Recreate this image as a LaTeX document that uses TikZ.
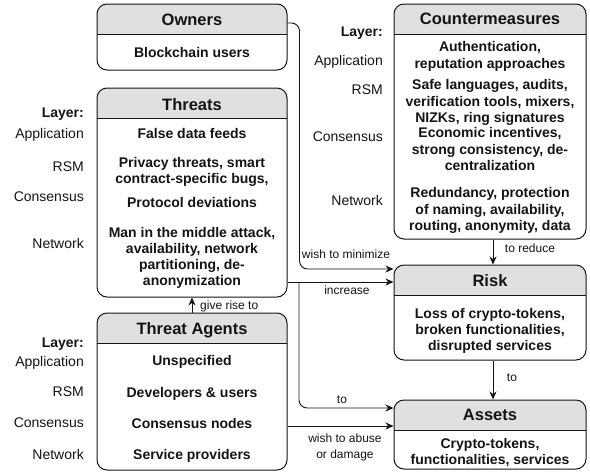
\documentclass[tikz,border=0pt]{standalone}
\usepackage{fontspec}
\setmainfont{Liberation Sans}
\usetikzlibrary{arrows.meta}
\definecolor{hdr}{RGB}{224,224,224}
\definecolor{ink}{RGB}{20,20,20}
\begin{document}
\begin{tikzpicture}[x=1pt,y=-1pt,
  box/.style={draw=ink, line width=1pt, rounded corners=10pt, fill=white, inner sep=0pt,
    path picture={
      \fill[hdr, sharp corners] (path picture bounding box.north west) rectangle ([yshift=-30pt]path picture bounding box.north east);
      \draw[ink, line width=1pt, sharp corners] ([yshift=-30pt]path picture bounding box.north west) -- ([yshift=-30pt]path picture bounding box.north east);
    }},
  ttl/.style={font=\fontsize{16.5}{19}\selectfont\bfseries, anchor=north, inner sep=0pt, text=ink},
  itm/.style={font=\fontsize{14}{16.2}\selectfont\bfseries, anchor=north, inner sep=0pt, align=center, text=ink},
  lay/.style={font=\fontsize{14}{16.5}\selectfont, anchor=north east, inner sep=0pt, text=ink},
  layb/.style={lay, font=\fontsize{14}{16.5}\selectfont\bfseries},
  lbl/.style={font=\fontsize{12}{16}\selectfont, anchor=north, inner sep=0pt, align=center, text=ink},
  conn/.style={draw=ink, line width=0.9pt, -{Stealth[length=8pt,width=7pt]}},
  rc/.style={rounded corners=8pt}
]
\useasboundingbox (0,0) rectangle (590,472);

% boxes
\node[box, minimum width=190pt, minimum height=66pt] (owners) at (192,37) {};
\node[box, minimum width=190pt, minimum height=209pt] (threats) at (192,192.5) {};
\node[box, minimum width=190pt, minimum height=157pt] (agents) at (192,391.5) {};
\node[box, minimum width=192pt, minimum height=235pt] (counter) at (490,121.5) {};
\node[box, minimum width=192pt, minimum height=95pt] (risk) at (490,312.5) {};
\node[box, minimum width=192pt, minimum height=69pt] (assets) at (490,434.5) {};

% titles
\node[ttl] (tOwners) at (192,13.6) {Owners};
\node[ttl] (tThreats) at (192,98) {Threats};
\node[ttl] (tAgents) at (192,322) {Threat Agents};
\node[ttl] (tCounter) at (490,13.2) {Countermeasures};
\node[ttl] (tRisk) at (490,274) {Risk};
\node[ttl] (tAssets) at (490,408.6) {Assets};

% owners
\node[itm] (iOwn) at (192,47) {Blockchain users};

% threats
\node[itm] (iT1) at (192,128) {False data feeds};
\node[itm] (iT2) at (192,157) {Privacy threats, smart\\contract-specific bugs,};
\node[itm] (iT3) at (192,197) {Protocol deviations};
\node[itm] (iT4) at (192,227) {Man in the middle attack,\\availability, network\\partitioning, de-\\anonymization};
\node[layb] (lT0) at (84,108) {Layer:};
\node[lay] (lT1) at (84,128) {Application};
\node[lay] (lT2) at (84,162) {RSM};
\node[lay] (lT3) at (84,192) {Consensus};
\node[lay] (lT4) at (84,238) {Network};

% threat agents
\node[itm] (iA1) at (192,355) {Unspecified};
\node[itm] (iA2) at (192,387) {Developers \& users};
\node[itm] (iA3) at (192,418) {Consensus nodes};
\node[itm] (iA4) at (192,449) {Service providers};
\node[layb] (lA0) at (84,338) {Layer:};
\node[lay] (lA1) at (84,356) {Application};
\node[lay] (lA2) at (84,387) {RSM};
\node[lay] (lA3) at (84,418) {Consensus};
\node[lay] (lA4) at (84,449) {Network};

% countermeasures
\node[itm] (iC1) at (490,41.5) {Authentication,\\reputation approaches};
\node[itm] (iC2) at (490,79.5) {Safe languages, audits,\\verification tools, mixers,\\NIZKs, ring signatures};
\node[itm] (iC3) at (490,127.5) {Economic incentives,\\strong consistency, de-\\centralization};
\node[itm] (iC4) at (490,187.5) {Redundancy, protection\\of naming, availability,\\routing, anonymity, data};
\node[layb] (lC0) at (383,27) {Layer:};
\node[lay] (lC1) at (383,55) {Application};
\node[lay] (lC2) at (383,85) {RSM};
\node[lay] (lC3) at (383,132) {Consensus};
\node[lay] (lC4) at (383,195) {Network};

% risk
\node[itm] (iR) at (490,308) {Loss of crypto-tokens,\\broken functionalities,\\disrupted services};

% assets
\node[itm] (iS) at (490,438) {Crypto-tokens,\\functionalities, services};

% connectors
\coordinate (br) at (299,282);
\draw[conn, rc] ([yshift=14pt]owners.east) -- ++(12,0) |- ([yshift=43.5pt]risk.west);
\draw[conn] ([yshift=-89.5pt]threats.east) -- ([yshift=30.5pt]risk.west);
\draw[conn, rc] (br) |- ([yshift=26.5pt]assets.west);
\draw[conn] ([yshift=-34.5pt]agents.east) -- ([yshift=8.5pt]assets.west);
\draw[conn] (agents.north) -- (threats.south);
\draw[conn] ([xshift=3pt]counter.south) -- ([xshift=3pt]risk.north);
\draw[conn] ([xshift=3pt]risk.south) -- ([xshift=3pt]assets.north);

% connector labels
\node[lbl] (cMin) at (346,249.7) {wish to minimize};
\node[lbl] (cInc) at (347,285.7) {increase};
\node[lbl] (cTo1) at (342,395.7) {to};
\node[lbl] (cAbuse) at (345,433.7) {wish to abuse\\or damage};
\node[lbl] (cRed) at (530,243.7) {to reduce};
\node[lbl] (cTo2) at (512,373.7) {to};
\node[lbl, anchor=north west] (cRise) at (200,300.7) {give rise to};
\end{tikzpicture}
\end{document}
